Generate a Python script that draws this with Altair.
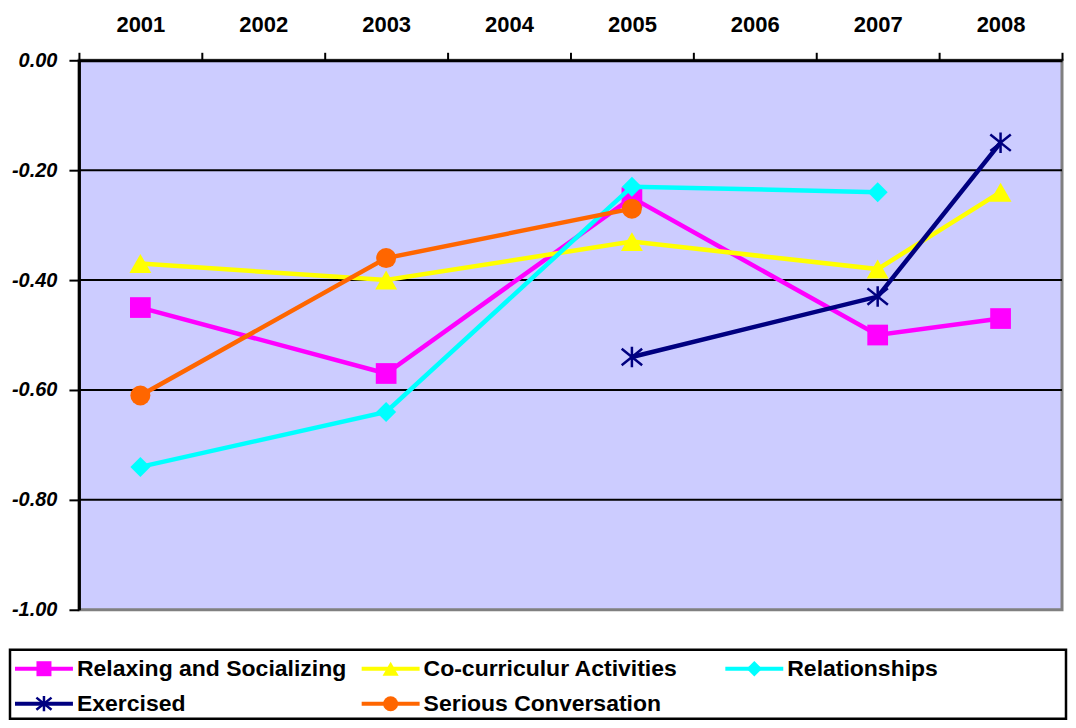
import altair as alt
import pandas as pd

# ---- data ----
years = [2001, 2002, 2003, 2004, 2005, 2006, 2007, 2008]
series_names = ["Relaxing and Socializing", "Co-curriculur Activities", "Relationships",
                "Exercised", "Serious Conversation"]

relaxing_years = [2001, 2003, 2005, 2007, 2008]
relaxing_values = [-0.45, -0.57, -0.25, -0.50, -0.47]
cocurricular_years = [2001, 2003, 2005, 2007, 2008]
cocurricular_values = [-0.37, -0.40, -0.33, -0.38, -0.24]
relationships_years = [2001, 2003, 2005, 2007]
relationships_values = [-0.74, -0.64, -0.23, -0.24]
exercised_years = [2005, 2007, 2008]
exercised_values = [-0.54, -0.43, -0.15]
serious_years = [2001, 2003, 2005]
serious_values = [-0.61, -0.36, -0.27]

y_ticks = [0.0, -0.2, -0.4, -0.6, -0.8, -1.0]
grid_values = [-0.2, -0.4, -0.6, -0.8]

legend_col = [0, 1, 2, 0, 1]
legend_row = [0, 0, 0, 1, 1]

# ---- styles ----
FONT = "Liberation Sans"
FS_X = 22
FS_Y = 20
FS_LEG = 23
colors = ["#FF00FF", "#FFFF00", "#00FFFF", "#000080", "#FF6600"]
ASTERISK = "M0,-1L0,1M-1,-0.8L1,0.8M-1,0.8L1,-0.8"
shapes = ["square", "triangle-up", "diamond", ASTERISK, "circle"]
filled = [True, True, True, False, True]
main_sizes = [430, 480, 400, 420, 400]
legend_sizes = [225, 260, 240, 230, 225]

rows = []
for name, ys, vs in zip(series_names,
                        [relaxing_years, cocurricular_years, relationships_years, exercised_years, serious_years],
                        [relaxing_values, cocurricular_values, relationships_values, exercised_values, serious_values]):
    for yr, v in zip(ys, vs):
        rows.append({"series": name, "year": yr, "value": v})
df = pd.DataFrame(rows)
grid_df = pd.DataFrame({"value": grid_values})
legend_df = pd.DataFrame({"series": series_names, "col": legend_col, "row": legend_row})

color_scale = alt.Scale(domain=series_names, range=colors)
color_enc = alt.Color("series:N", scale=color_scale, legend=None)

x_enc = alt.X("year:O",
              scale=alt.Scale(type="band", domain=years, paddingInner=0, paddingOuter=0),
              axis=alt.Axis(orient="top", title=None, labelAngle=0, tickBand="extent",
                            tickSize=8, tickWidth=2, tickColor="black",
                            domainColor="black", domainWidth=3,
                            labelFont=FONT, labelFontSize=FS_X, labelFontWeight="bold",
                            labelColor="black", labelPadding=16, grid=False))
y_enc = alt.Y("value:Q",
              scale=alt.Scale(domain=[-1, 0], nice=False, zero=False),
              axis=alt.Axis(values=y_ticks, title=None, grid=False,
                            labelExpr="replace(format(datum.value, '.2f'), '\u2212', '-')",
                            tickSize=10, tickWidth=2, tickColor="black",
                            domainColor="black", domainWidth=3,
                            labelFont=FONT, labelFontSize=FS_Y, labelFontWeight="bold",
                            labelFontStyle="italic", labelColor="black", labelPadding=12))

base = alt.Chart(df)
grid = alt.Chart(grid_df).mark_rule(color="black", strokeWidth=2).encode(y=y_enc)

main_layers = [grid]
for i, name in enumerate(series_names):
    sub = base.transform_filter(alt.datum.series == name)
    line = sub.mark_line(strokeWidth=4.5).encode(x=x_enc, y=y_enc, color=color_enc)
    pt = sub.mark_point(shape=shapes[i], filled=filled[i], size=main_sizes[i], opacity=1,
                        strokeWidth=2.5 if not filled[i] else 0).encode(
        x=x_enc, y=y_enc, color=color_enc)
    main_layers += [line, pt]
main = alt.layer(*main_layers)

# ---- legend (drawn below the plot area, relative to its origin) ----
lx = alt.X("col:Q", scale=alt.Scale(domain=[0, 1, 2], range=[-35, 312, 676]), axis=None)
ly = alt.Y("row:Q", scale=alt.Scale(domain=[0, 1], range=[609, 644]), axis=None)
lbase = alt.Chart(legend_df)
frame = lbase.transform_aggregate(n="count()").mark_rect(
    fill="white", stroke="black", strokeWidth=2.5).encode(
    x=alt.value(-69), x2=alt.value(988), y=alt.value(590), y2=alt.value(659))
leg_layers = [frame,
              lbase.mark_tick(orient="horizontal", size=58, thickness=4, opacity=1).encode(
                  x=lx, y=ly, color=color_enc)]
for i, name in enumerate(series_names):
    leg_layers.append(
        lbase.transform_filter(alt.datum.series == name).mark_point(
            shape=shapes[i], filled=filled[i], size=legend_sizes[i], opacity=1,
            strokeWidth=2.5 if not filled[i] else 0).encode(x=lx, y=ly, color=color_enc))
leg_layers.append(lbase.mark_text(align="left", baseline="middle", dx=33, font=FONT,
                                  fontSize=FS_LEG, fontWeight="bold", color="black").encode(
    x=lx, y=ly, text="series:N"))
legend = alt.layer(*leg_layers)

chart = alt.layer(main, legend).resolve_scale(x="independent", y="independent").properties(
    width=984, height=550,
    view=alt.ViewBackground(fill="#CCCCFF", stroke="#808080", strokeWidth=3),
    padding={"left": 0, "top": 5, "right": 0, "bottom": 0}
).configure(background="white")

chart.save("out.html", embed_options={"renderer": "svg", "actions": False})
